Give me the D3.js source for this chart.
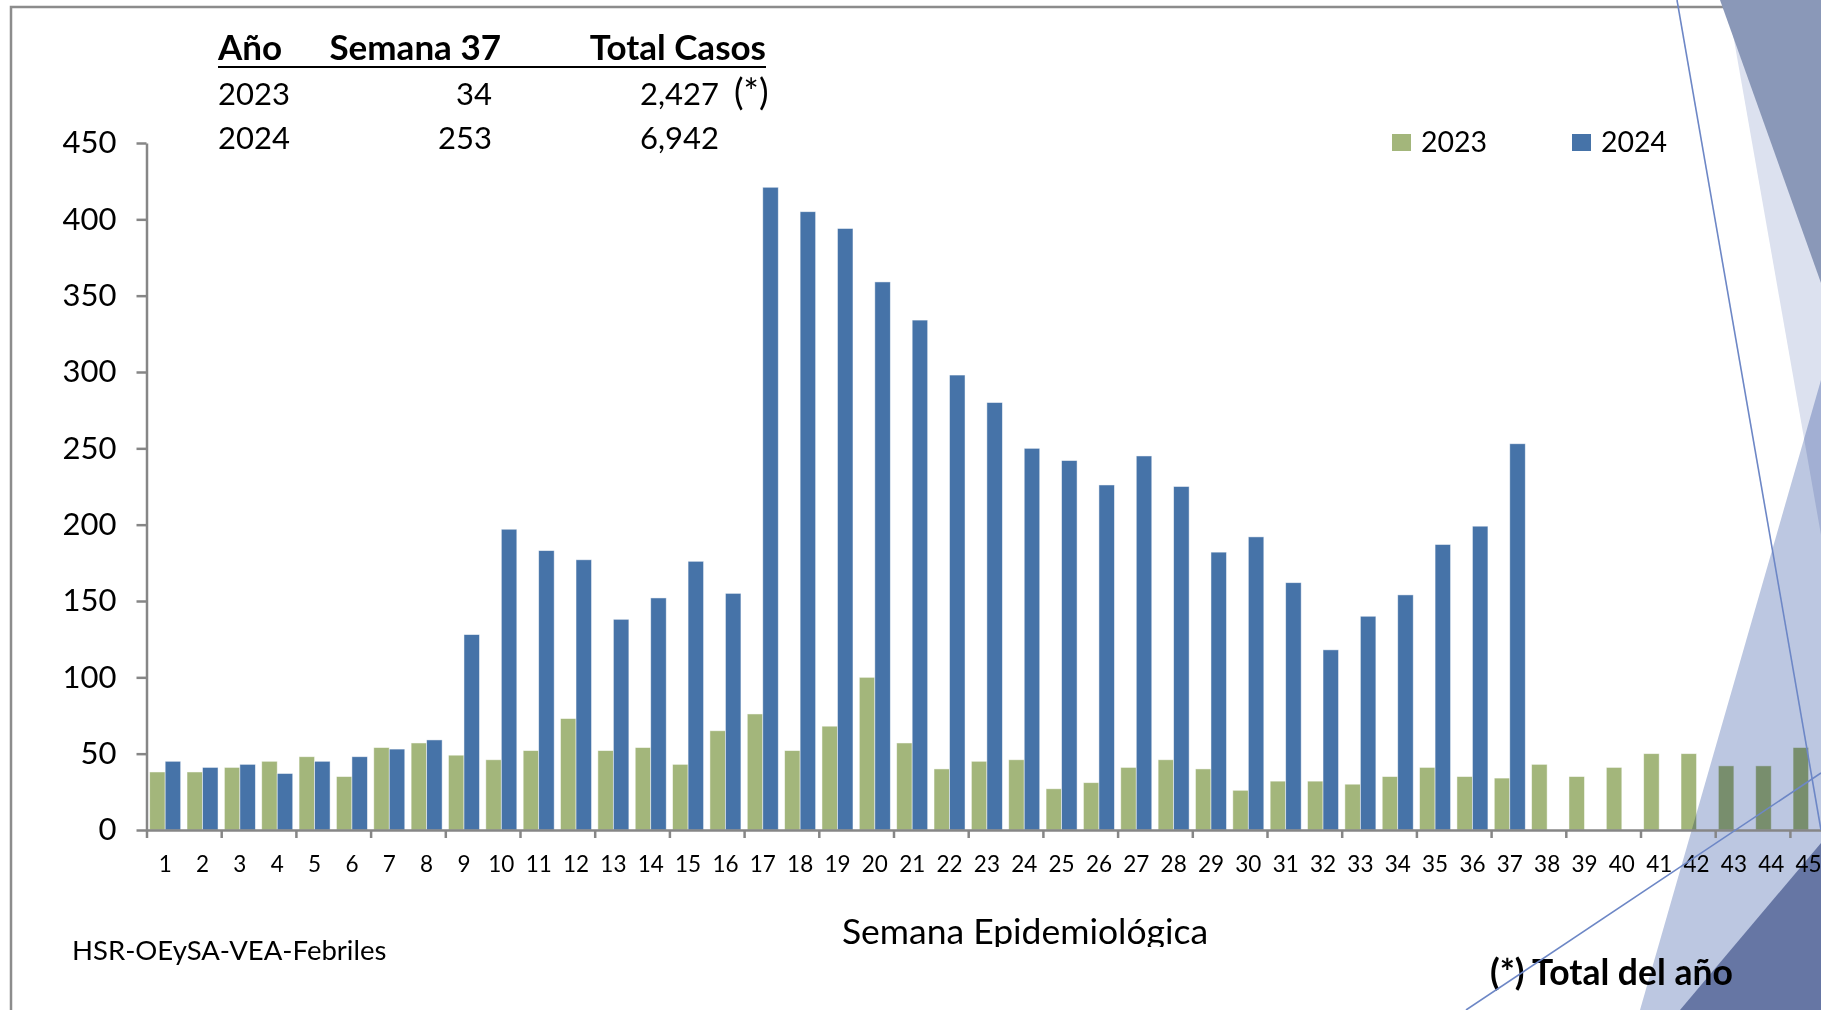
<!DOCTYPE html>
<html>
<head>
<meta charset="utf-8">
<script src="https://cdnjs.cloudflare.com/ajax/libs/d3/7.8.5/d3.min.js"></script>
<style>
  body { margin: 0; background: #fff; }
  svg { display: block; font-family: Lato, "Open Sans", sans-serif; }
</style>
</head>
<body>
<svg id="chart" width="1821" height="1010"></svg>
<script>
// semanas epidemiologicas
const weeks = ["1","2","3","4","5","6","7","8","9","10","11","12","13","14","15",
  "16","17","18","19","20","21","22","23","24","25","26","27","28","29","30",
  "31","32","33","34","35","36","37","38","39","40","41","42","43","44","45"];
const series = ["2023", "2024"];
const cases2023 = [38,38,41,45,48,35,54,57,49,46,52,73,52,54,43,65,76,52,68,100,
  57,40,45,46,27,31,41,46,40,26,32,32,30,35,41,35,34,43,35,41,50,50,42,42,54];
const cases2024 = [45,41,43,37,45,48,53,59,128,197,183,177,138,152,176,155,421,405,394,359,
  334,298,280,250,242,226,245,225,182,192,162,118,140,154,187,199,253];
const yTicks = [0,50,100,150,200,250,300,350,400,450];

// cuadro resumen
const tableHeader = ["Año", "Semana 37", "Total Casos"];
const tableYears = ["2023", "2024"];
const tableWeek = ["34", "253"];
const tableTotal = ["2,427", "6,942"];
const tableNote = ["(*)", ""];

const colors = { "2023": "#a3b67b", "2024": "#4673a8" };
const axisColor = "#868686";

const svg = d3.select("#chart");
const W = 1821, H = 1010;
const step = 37.35;
const x0 = 146.5;

const x = d3.scaleBand().domain(weeks)
  .range([x0, x0 + step * weeks.length])
  .paddingInner(0.17).paddingOuter(0.085);
const xSub = d3.scaleBand().domain(series).range([0, x.bandwidth()]);
const xEdge = d3.scaleLinear().domain([0, weeks.length]).range([x0, x0 + step * weeks.length]);
const y = d3.scaleLinear().domain([0, 450]).range([830, 143]);

// marco
svg.append("path")
  .attr("d", `M11,${H} L11,7 L${W},7`)
  .attr("fill", "none").attr("stroke", "#8c8c8c").attr("stroke-width", 2.5);

// barras
const barData = [];
weeks.forEach((w, i) => {
  if (cases2023[i] != null) barData.push({ week: w, year: "2023", value: cases2023[i] });
  if (cases2024[i] != null) barData.push({ week: w, year: "2024", value: cases2024[i] });
});

svg.append("g").selectAll("rect")
  .data(barData)
  .enter().append("rect")
  .attr("x", d => x(d.week) + xSub(d.year))
  .attr("y", d => y(d.value))
  .attr("width", xSub.bandwidth())
  .attr("height", d => y(0) - y(d.value))
  .attr("fill", d => colors[d.year])
  .attr("stroke", "#fff").attr("stroke-opacity", 0.6).attr("stroke-width", 0.8);

// formas decorativas
const deco = svg.append("g");
deco.append("polygon").attr("points", `1727,0 ${W},0 ${W},535`)
  .attr("fill", "#dce1ef").style("mix-blend-mode", "multiply");
deco.append("polygon").attr("points", `1720,0 ${W},0 ${W},283`)
  .attr("fill", "#8a98b8");
deco.append("polygon").attr("points", `${W},380 1640,${H} ${W},${H}`)
  .attr("fill", "#bcc7e1").style("mix-blend-mode", "multiply");
deco.append("polygon").attr("points", `1680,${H} ${W},843 ${W},${H}`)
  .attr("fill", "#6676a4");

// eje Y
const yAxis = svg.append("g")
  .attr("transform", `translate(${x0},0)`)
  .call(d3.axisLeft(y).tickValues(yTicks).tickSize(10).tickPadding(20).tickSizeOuter(0));
yAxis.attr("font-family", null).attr("font-size", 31);
yAxis.select(".domain").attr("stroke", axisColor).attr("stroke-width", 2.5);
yAxis.selectAll(".tick line").attr("stroke", axisColor).attr("stroke-width", 2.5);
yAxis.selectAll(".tick text").attr("fill", "#000");

// eje X: marcas cada 2 semanas
const xTickAxis = svg.append("g")
  .attr("transform", `translate(0,${y(0)})`)
  .call(d3.axisBottom(xEdge).tickValues(d3.range(0, weeks.length, 2)).tickSize(8).tickSizeOuter(0).tickFormat(""));
xTickAxis.select(".domain").attr("stroke", axisColor).attr("stroke-width", 2.5);
xTickAxis.selectAll(".tick line").attr("stroke", axisColor).attr("stroke-width", 2.5);

const xAxis = svg.append("g")
  .attr("transform", `translate(0,${y(0)})`)
  .call(d3.axisBottom(x).tickSize(0).tickPadding(26.5));
xAxis.attr("font-family", null).attr("font-size", 22.5);
xAxis.select(".domain").remove();
xAxis.selectAll(".tick text").attr("fill", "#000");

// leyenda
const legend = svg.append("g").attr("font-size", 28.5);
const legX = { "2023": 1392, "2024": 1572 };
series.forEach(s => {
  legend.append("rect").attr("x", legX[s]).attr("y", 134).attr("width", 19).attr("height", 17)
    .attr("fill", colors[s]);
  legend.append("text").attr("x", legX[s] + 29).attr("y", 151.5).text(s);
});

// cuadro resumen
const table = svg.append("g").attr("font-size", 31);
table.append("text").attr("x", 218).attr("y", 60).attr("font-weight", "bold")
  .attr("font-size", 35).text(tableHeader[0]);
table.append("text").attr("x", 501).attr("y", 60).attr("font-weight", "bold")
  .attr("font-size", 35).attr("text-anchor", "end").text(tableHeader[1]);
table.append("text").attr("x", 766).attr("y", 60).attr("font-weight", "bold")
  .attr("font-size", 35).attr("text-anchor", "end").text(tableHeader[2]);
table.append("line").attr("x1", 218).attr("x2", 766).attr("y1", 67).attr("y2", 67)
  .attr("stroke", "#000").attr("stroke-width", 2);
tableYears.forEach((yr, i) => {
  const by = 104.5 + i * 44;
  table.append("text").attr("x", 218).attr("y", by).text(yr);
  table.append("text").attr("x", 492).attr("y", by).attr("text-anchor", "end").text(tableWeek[i]);
  table.append("text").attr("x", 640).attr("y", by).text(tableTotal[i]);
  table.append("text").attr("x", 734).attr("y", by).attr("font-size", 36).text(tableNote[i]);
});

// titulo del eje X (recortado abajo como en la lamina)
svg.append("clipPath").attr("id", "clipTitle")
  .append("rect").attr("x", 0).attr("y", 880).attr("width", W).attr("height", 67);
svg.append("text").attr("x", 1025).attr("y", 944).attr("text-anchor", "middle")
  .attr("clip-path", "url(#clipTitle)")
  .attr("font-size", 35.5).text("Semana Epidemiológica");
svg.append("text").attr("x", 72).attr("y", 960).attr("font-size", 27.5).text("HSR-OEySA-VEA-Febriles");
svg.append("text").attr("x", 1490).attr("y", 985).attr("font-size", 35.5).attr("font-weight", "bold")
  .text("(*) Total del año");

// lineas finas
svg.append("line").attr("x1", 1677).attr("y1", 0).attr("x2", W).attr("y2", 830)
  .attr("stroke", "#6d87c6").attr("stroke-width", 1.6);
svg.append("line").attr("x1", 1466).attr("y1", H).attr("x2", W).attr("y2", 773)
  .attr("stroke", "#6d87c6").attr("stroke-width", 1.6);
</script>
</body>
</html>
